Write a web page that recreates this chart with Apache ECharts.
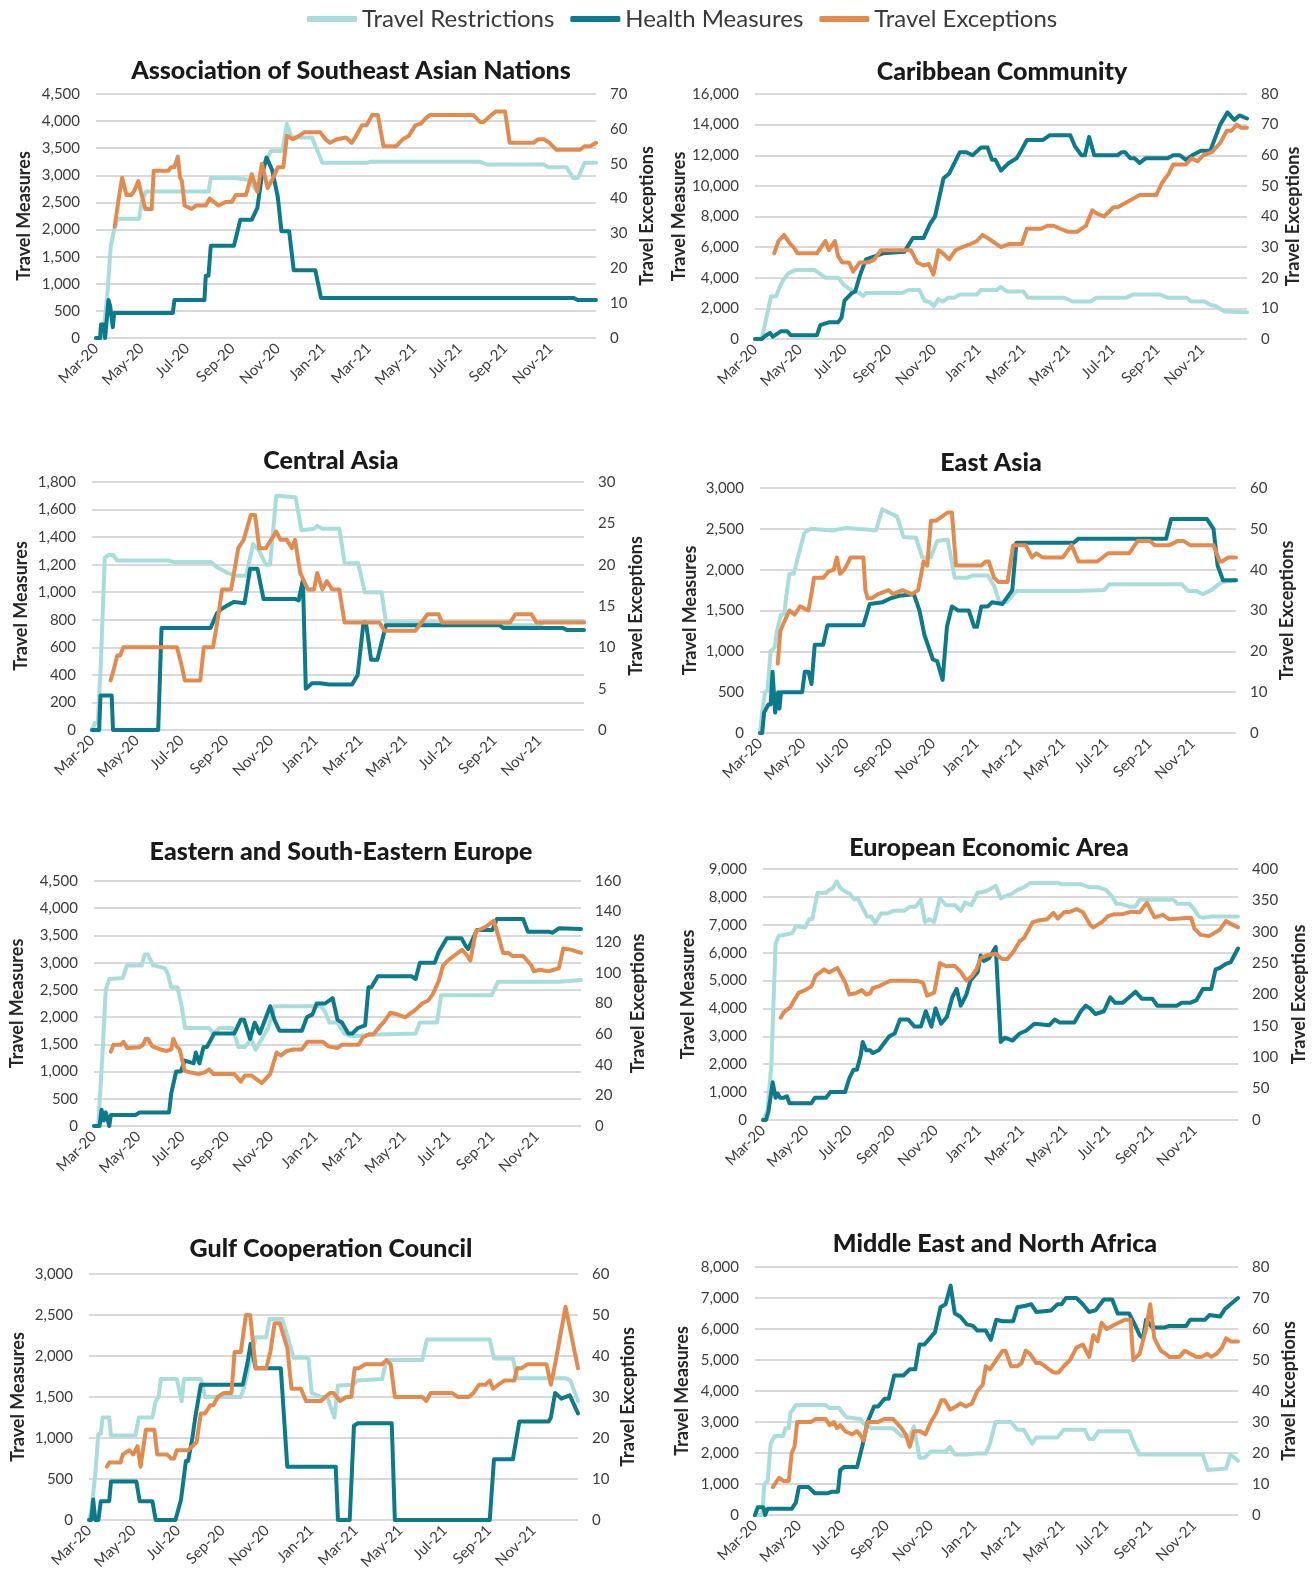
<!DOCTYPE html>
<html><head><meta charset="utf-8">
<script src="https://cdn.jsdelivr.net/npm/echarts/dist/echarts.min.js"></script>
<style>html,body{margin:0;padding:0;background:#fff}#c{width:1313px;height:1583px}</style>
</head><body><div id="c"></div>
<script>
// x values are months since 1 Mar 2020
const tickLabels = ['Mar-20','May-20','Jul-20','Sep-20','Nov-20','Jan-21','Mar-21','May-21','Jul-21','Sep-21','Nov-21'];
const seriesNames = ['Travel Restrictions','Health Measures','Travel Exceptions'];
const panelTitles = ['Association of Southeast Asian Nations','Caribbean Community','Central Asia','East Asia','Eastern and South-Eastern Europe','European Economic Area','Gulf Cooperation Council','Middle East and North Africa'];
const leftMax = [4500,16000,1800,3000,4500,9000,3000,8000];
const leftInterval = [500,2000,200,500,500,1000,500,1000];
const rightMax = [70,80,30,60,160,400,60,80];
const rightInterval = [10,10,5,10,20,50,10,10];

const aseanTR = [[0,0],[0.3,0],[0.5,800],[0.65,1700],[0.8,2000],[0.95,2200],[1.9,2200],[2.0,2500],[2.2,2700],[4.95,2700],[5.05,2950],[6.05,2950],[6.7,2920],[7.1,2700],[7.4,3200],[7.7,3450],[8.2,3450],[8.4,3950],[8.6,3700],[9.5,3700],[9.96,3230],[11.9,3230],[12.1,3250],[16.9,3250],[17.2,3200],[19.7,3200],[19.9,3150],[20.7,3150],[21.0,2950],[21.2,2950],[21.5,3230],[22,3230]];
const aseanHM = [[0,0],[0.18,0],[0.22,250],[0.35,250],[0.4,0],[0.45,0],[0.55,700],[0.62,600],[0.74,200],[0.8,460],[3.38,460],[3.45,700],[4.77,700],[4.83,1150],[4.95,1150],[5.05,1700],[6.07,1700],[6.35,2180],[6.85,2180],[7.1,2400],[7.3,3000],[7.5,3330],[7.75,3100],[8.0,2600],[8.16,1970],[8.5,1970],[8.7,1250],[9.65,1250],[9.9,740],[21.0,740],[21.2,700],[22,700]];
const aseanTE = [[0.82,32],[1.0,40],[1.15,46],[1.34,41],[1.55,41],[1.67,42],[1.86,45],[2.05,40],[2.17,37],[2.45,37],[2.54,48],[3.19,48],[3.3,49],[3.45,49],[3.6,52],[3.7,46],[3.78,45],[3.9,38],[4.2,37],[4.4,38],[4.83,38],[5.0,40],[5.4,38],[5.7,39],[5.97,39],[6.15,41],[6.6,41],[6.85,47],[7.1,42],[7.3,50],[7.55,43],[7.8,46],[8.0,49],[8.24,49],[8.4,58],[8.66,57],[8.94,58],[9.16,59],[9.87,59],[10.1,57],[10.3,56],[10.6,57],[11.0,57.5],[11.25,56],[11.45,58],[11.7,61],[11.9,61],[12.15,64],[12.4,64],[12.65,55],[13.2,55],[13.5,57],[13.77,58],[14.05,61],[14.3,61.5],[14.5,63],[14.7,64],[16.6,64],[16.9,62],[17.05,62],[17.4,64],[17.6,65],[18.0,65],[18.2,56],[19.25,56],[19.45,57],[19.7,57],[19.95,56],[20.26,54],[21.3,54],[21.5,55],[21.75,55],[22,56]];

const caricomTR = [[0,0],[0.3,0],[0.72,2800],[0.95,2800],[1.05,3200],[1.24,3800],[1.5,4300],[1.8,4500],[2.67,4500],[2.96,4200],[3.15,4000],[3.72,4000],[4.0,3500],[4.3,3200],[4.68,3000],[4.83,2800],[4.96,3000],[6.58,3000],[6.87,3200],[7.35,3200],[7.58,2500],[7.82,2400],[8.0,2150],[8.2,2600],[8.4,2450],[8.65,2700],[8.9,2700],[9.16,2900],[9.92,2900],[10.1,3200],[10.8,3200],[11.0,3400],[11.25,3100],[12.0,3100],[12.2,2700],[13.8,2700],[14.2,2450],[15.0,2450],[15.27,2700],[16.6,2700],[16.9,2900],[18.1,2900],[18.45,2700],[19.3,2700],[19.5,2450],[20.1,2450],[20.4,2200],[20.6,2150],[21.0,1800],[22,1750]];
const caricomHM = [[0,0],[0.3,0],[0.45,200],[0.67,400],[0.8,150],[1.15,500],[1.44,500],[1.6,250],[2.77,250],[2.92,900],[3.33,1100],[3.72,1100],[3.87,1400],[4.0,2500],[4.33,3000],[4.48,3100],[4.7,4200],[4.96,5200],[5.34,5400],[5.73,5600],[6.68,5700],[7.06,6600],[7.54,6600],[7.82,7500],[8.05,8000],[8.43,10500],[8.68,10800],[9.16,12200],[9.45,12200],[9.73,12000],[10.1,12500],[10.4,12500],[10.6,11700],[10.75,11700],[11.0,11000],[11.35,11500],[11.7,11800],[11.9,12300],[12.16,13000],[12.88,13000],[13.17,13300],[14.1,13300],[14.3,12600],[14.6,12000],[14.75,12000],[14.94,13200],[15.17,12000],[16.2,12000],[16.4,12200],[16.55,12200],[16.78,11800],[16.97,11800],[17.2,11500],[17.46,11800],[18.45,11800],[18.7,12000],[19.0,12000],[19.27,11700],[19.55,12000],[19.94,12300],[20.36,12300],[20.8,14000],[21.13,14800],[21.43,14300],[21.66,14600],[22,14400]];
const caricomTE = [[0.86,28],[1.05,32],[1.3,34],[1.58,31],[1.72,30],[1.9,28],[2.77,28],[2.96,30],[3.15,32],[3.3,29],[3.57,32],[3.72,27],[3.9,25],[4.2,25],[4.39,22],[4.68,25],[5.05,25],[5.34,26],[5.63,29],[6.97,29],[7.25,25],[7.54,24],[7.77,24.5],[7.98,21],[8.2,29],[8.4,28],[8.68,26],[8.97,29],[9.26,30],[9.64,31],[9.92,32],[10.17,34],[10.4,33],[10.6,32],[10.8,31],[11.0,30],[11.35,31],[11.93,31],[12.16,36],[12.79,36],[13.07,37],[13.36,37],[13.65,36],[14.0,35],[14.4,35],[14.8,37],[15.08,42],[15.27,41],[15.6,40],[16.03,43],[16.22,43],[16.7,45],[17.2,47],[17.94,47],[18.2,51],[18.5,54],[18.7,57],[19.27,57],[19.52,59],[19.79,58],[20.04,60],[20.43,61],[20.8,64],[21.1,68],[21.3,68],[21.54,70],[21.73,69],[22,69]];

const caTR = [[0,0],[0.13,50],[0.26,50],[0.4,500],[0.57,1250],[0.75,1270],[0.94,1270],[1.13,1230],[3.43,1230],[3.62,1220],[5.3,1220],[5.6,1180],[6.07,1140],[6.45,1120],[6.9,1120],[7.2,1350],[7.48,1300],[7.77,1200],[7.96,1200],[8.24,1700],[9.1,1690],[9.37,1450],[9.93,1460],[10.07,1480],[10.3,1460],[11.06,1460],[11.3,1210],[11.9,1210],[12.2,1000],[12.95,1000],[13.14,780],[18.5,770],[18.7,760],[20.0,760],[20.3,790],[22,790]];
const caHM = [[0,0],[0.32,0],[0.38,250],[0.88,250],[0.94,0],[2.96,0],[3.11,740],[5.3,740],[5.6,850],[5.8,880],[6.35,930],[6.82,920],[7.07,1170],[7.4,1170],[7.67,950],[9.1,950],[9.24,940],[9.43,1090],[9.56,300],[9.84,340],[10.2,340],[10.6,330],[11.63,330],[11.88,400],[12.14,780],[12.25,780],[12.48,510],[12.76,510],[13.14,760],[18.23,760],[18.4,740],[21.06,740],[21.25,725],[22,725]];
const caTE = [[0.83,6],[0.94,7],[1.13,9],[1.26,9],[1.4,10],[3.8,10],[3.99,8],[4.15,6],[4.84,6],[5.0,10],[5.41,10],[5.6,13],[5.82,17],[6.22,17],[6.54,22],[6.78,23],[7.1,26],[7.29,26],[7.48,22],[7.77,22],[8.24,24],[8.43,23],[8.71,23],[8.94,22],[9.08,23],[9.31,19],[9.65,17],[9.93,17],[10.07,19],[10.3,17],[10.5,18],[10.74,17],[11.06,17],[11.29,13],[12.85,13],[13.08,12],[14.46,12],[15.0,14],[15.5,14],[15.65,13],[18.7,13],[18.93,14],[19.65,14],[19.87,13],[22,13]];

const eaTR = [[0,0],[0.1,250],[0.23,500],[0.35,520],[0.49,1000],[0.68,1050],[0.78,1250],[0.97,1450],[1.13,1450],[1.2,1650],[1.36,1950],[1.56,1950],[1.8,2200],[2.05,2450],[2.34,2500],[3.31,2480],[4.0,2510],[5.07,2490],[5.36,2480],[5.65,2740],[5.95,2700],[6.34,2650],[6.63,2400],[7.21,2390],[7.5,2150],[7.89,2150],[8.19,2350],[8.67,2370],[9.0,1900],[9.55,1900],[9.84,1930],[10.53,1930],[10.82,1800],[11.07,1600],[11.4,1600],[11.7,1700],[11.9,1740],[14.6,1740],[15.9,1750],[16.14,1820],[19.5,1820],[19.79,1740],[20.18,1740],[20.47,1700],[20.86,1750],[21.35,1850],[22,1870]];
const eaHM = [[0,0],[0.1,0],[0.19,250],[0.39,350],[0.49,350],[0.58,750],[0.7,250],[0.84,500],[0.9,300],[0.97,500],[1.95,500],[2.07,750],[2.24,750],[2.38,600],[2.53,1080],[2.92,1080],[3.12,1320],[4.78,1320],[5.07,1580],[5.65,1600],[6.04,1650],[6.43,1680],[7.11,1700],[7.37,1500],[7.6,1200],[7.99,900],[8.19,880],[8.44,650],[8.64,1300],[8.87,1550],[9.16,1500],[9.65,1500],[9.9,1300],[10.03,1300],[10.23,1550],[10.53,1550],[10.72,1600],[11.21,1580],[11.66,1750],[11.85,2330],[14.5,2330],[14.72,2380],[18.77,2380],[19.0,2620],[20.66,2620],[20.96,2500],[21.15,2050],[21.4,1870],[22,1870]];
const eaTE = [[0.82,17],[0.94,25],[1.1,27],[1.36,30],[1.6,29],[1.85,31],[2.24,30],[2.5,38],[2.92,38],[3.16,39.5],[3.41,40],[3.55,43],[3.7,39],[3.9,40],[4.19,43],[4.78,43],[4.87,35],[4.97,33],[5.17,33],[5.46,34],[5.95,35],[6.14,34],[6.59,35],[7.02,34],[7.31,35],[7.56,42],[7.73,41],[7.9,52],[8.15,52],[8.67,54],[8.87,54],[9.06,41],[10.23,41],[10.43,42],[10.57,42],[10.82,38],[11.02,37],[11.44,37],[11.7,46],[12.28,46],[12.57,43],[12.77,44],[13.06,43],[14.0,43],[14.4,46],[14.72,42],[15.59,42],[16.08,44],[17.06,44],[17.45,47],[18.03,47],[18.23,46],[18.91,46],[19.3,47],[19.59,47],[19.88,46],[20.96,46],[21.25,42],[21.35,42],[21.64,43],[22,43]];

const eseTR = [[0,0],[0.19,0],[0.38,1300],[0.53,2500],[0.69,2700],[1.3,2720],[1.49,2950],[2.15,2950],[2.29,3150],[2.44,3150],[2.67,2950],[3.2,2900],[3.33,2800],[3.49,2550],[3.77,2550],[3.96,2200],[4.11,1800],[5.2,1800],[5.39,1700],[5.68,1800],[6.25,1800],[6.53,1450],[6.82,1450],[7.1,1600],[7.3,1400],[7.58,1600],[7.87,1800],[8.15,2200],[10.25,2200],[10.44,2100],[10.63,1900],[11.0,1900],[11.3,1700],[11.58,1650],[12.91,1680],[14.53,1700],[14.72,1900],[15.5,1900],[15.68,2400],[17.96,2400],[18.25,2650],[21.0,2650],[22,2680]];
const eseHM = [[0,0],[0.25,0],[0.34,300],[0.44,100],[0.53,250],[0.62,100],[0.69,0],[0.76,200],[1.87,200],[2.06,250],[3.39,250],[3.49,600],[3.71,1000],[3.92,1000],[4.1,1200],[4.5,1150],[4.6,1350],[4.76,1150],[4.95,1450],[5.1,1450],[5.43,1700],[6.34,1700],[6.63,1950],[6.78,1950],[7.05,1600],[7.26,1900],[7.49,1700],[7.68,1900],[7.96,2200],[8.15,1950],[8.38,1750],[9.39,1750],[9.62,2000],[9.87,2050],[10.06,2250],[10.44,2250],[10.78,2350],[11.0,1950],[11.2,1900],[11.49,1700],[11.68,1700],[11.92,1800],[12.25,1850],[12.4,2550],[12.53,2550],[12.82,2750],[14.34,2750],[14.53,2700],[14.72,3000],[15.39,3000],[15.58,3200],[15.94,3450],[16.6,3450],[16.8,3300],[16.9,3250],[17.3,3600],[18.0,3600],[18.2,3800],[19.39,3800],[19.6,3570],[20.53,3570],[20.72,3550],[21.0,3630],[22,3620]];
const eseTE = [[0.76,48.5],[0.88,53],[1.2,53],[1.33,55],[1.49,51],[2.06,51.5],[2.21,53],[2.34,57],[2.44,57],[2.63,52],[3.0,50],[3.29,49],[3.49,50],[3.58,57],[3.73,52],[3.87,50],[4.1,36],[4.34,35],[4.72,34],[5.0,35],[5.2,37],[5.39,34],[6.34,34],[6.63,29],[6.82,33],[7.1,33],[7.3,31],[7.58,28],[7.77,31],[7.96,34],[8.25,48],[8.44,46],[8.72,49],[9.0,50],[9.39,50],[9.64,55],[10.34,55],[10.59,52],[11.0,51],[11.2,53],[11.96,53],[12.15,58],[12.44,60],[12.63,60],[12.91,65],[13.1,68],[13.39,74],[13.68,73],[14.06,71],[14.34,74],[14.53,76],[14.82,80],[15.1,82],[15.3,86],[15.58,95],[15.77,105],[16.06,109],[16.44,113],[16.63,115],[16.82,112],[17.0,108],[17.25,127],[17.68,130],[17.78,131],[18.06,134],[18.25,125],[18.48,113],[18.72,113],[18.91,111],[19.39,111],[19.75,105],[19.87,101],[20.15,102],[20.53,101],[21.0,103],[21.2,116],[21.58,115],[22,113]];

const eeaTR = [[0,0],[0.2,300],[0.39,2000],[0.58,6300],[0.72,6600],[1.07,6650],[1.36,6700],[1.52,6950],[1.95,6900],[2.14,7200],[2.28,7200],[2.53,8150],[2.92,8150],[3.06,8250],[3.22,8300],[3.41,8550],[3.6,8300],[3.8,8200],[4.04,8100],[4.23,7900],[4.38,7950],[4.62,7600],[4.82,7300],[5.01,7300],[5.2,7050],[5.46,7400],[5.75,7400],[6.04,7500],[6.53,7500],[6.82,7650],[7.07,7650],[7.31,7900],[7.5,7100],[7.7,7200],[7.93,7100],[8.19,7950],[8.48,7700],[8.91,7700],[9.16,7500],[9.36,7800],[9.65,7700],[9.94,8150],[10.33,8200],[10.78,8400],[11.01,7950],[11.3,8050],[11.5,8100],[11.79,8250],[12.09,8350],[12.38,8500],[13.65,8500],[13.84,8450],[14.72,8450],[15.1,8350],[15.5,8350],[15.89,8250],[16.18,8000],[16.37,7750],[16.57,7750],[16.96,7650],[17.25,7650],[17.45,7900],[19.0,7900],[19.2,7750],[19.75,7750],[19.98,7550],[20.18,7300],[20.37,7250],[20.76,7300],[22,7300]];
const eeaHM = [[0,0],[0.14,0],[0.25,300],[0.45,1350],[0.58,800],[0.68,950],[0.78,800],[0.97,800],[1.11,850],[1.23,600],[2.24,600],[2.4,800],[2.92,800],[3.12,1000],[3.8,1000],[4.0,1500],[4.19,1800],[4.35,1800],[4.52,2300],[4.62,2800],[4.78,2500],[4.97,2500],[5.07,2400],[5.36,2500],[5.85,3000],[6.1,3100],[6.34,3600],[6.73,3600],[7.02,3350],[7.31,3350],[7.54,3900],[7.8,3350],[7.99,4000],[8.25,3450],[8.52,3700],[8.77,4400],[8.97,4700],[9.16,4100],[9.42,4500],[9.61,5000],[9.94,5300],[10.08,5900],[10.23,5700],[10.47,5800],[10.78,6200],[11.01,2800],[11.2,2950],[11.56,2850],[11.89,3100],[12.18,3200],[12.57,3450],[13.26,3400],[13.51,3600],[13.74,3500],[14.42,3500],[14.72,3900],[14.95,4100],[15.15,4000],[15.4,3800],[15.79,3900],[16.08,4400],[16.31,4200],[16.66,4200],[16.96,4400],[17.25,4600],[17.54,4350],[18.03,4350],[18.26,4100],[19.16,4100],[19.39,4200],[19.78,4200],[20.08,4300],[20.37,4700],[20.76,4700],[20.96,5400],[21.15,5450],[21.44,5600],[21.65,5650],[22,6150]];
const eeaTE = [[0.82,163],[0.97,172],[1.27,180],[1.46,192],[1.66,203],[1.95,207],[2.24,213],[2.44,230],[2.83,240],[3.06,235],[3.31,240],[3.45,242],[3.6,232],[3.8,220],[4.0,200],[4.29,202],[4.58,207],[4.78,200],[4.97,202],[5.07,210],[5.36,213],[5.65,218],[5.9,222],[6.73,222],[7.21,221],[7.41,219],[7.6,198],[7.93,203],[8.19,250],[8.48,245],[8.87,246],[9.16,236],[9.42,222],[9.69,230],[9.88,240],[10.08,258],[10.43,263],[10.78,265],[11.05,257],[11.3,256],[11.6,268],[11.89,285],[12.09,290],[12.48,315],[12.77,318],[13.16,320],[13.45,330],[13.65,321],[13.94,331],[14.23,332],[14.53,336],[14.82,331],[15.15,311],[15.3,307],[15.69,315],[15.98,325],[16.27,328],[16.66,328],[17.06,332],[17.45,331],[17.78,346],[18.13,323],[18.52,327],[18.81,320],[19.59,322],[19.83,322],[19.98,305],[20.27,295],[20.66,293],[21.15,303],[21.44,317],[21.65,313],[22,307]];

const gccTR = [[0,0],[0.1,100],[0.28,550],[0.42,1050],[0.53,1050],[0.61,1250],[0.91,1250],[0.99,1030],[2.09,1030],[2.24,1250],[2.85,1250],[3.0,1450],[3.13,1500],[3.23,1720],[3.95,1720],[4.17,1450],[4.27,1720],[5.03,1720],[5.22,1500],[6.83,1500],[6.98,1620],[7.21,1900],[7.5,2230],[7.97,2230],[8.12,2450],[8.69,2450],[8.92,2250],[9.2,1980],[9.87,1980],[10.02,1550],[10.44,1500],[10.72,1500],[11.04,1250],[11.2,1640],[11.86,1650],[12.05,1700],[13.19,1720],[13.38,1950],[14.99,1950],[15.2,2200],[18.03,2200],[18.22,1970],[19.07,1970],[19.26,1730],[21.43,1730],[21.66,1700],[22,1450]];
const gccHM = [[0,0],[0.1,0],[0.19,250],[0.28,0],[0.42,0],[0.53,230],[0.91,230],[0.99,470],[2.13,470],[2.28,230],[2.85,230],[3.0,0],[3.89,0],[4.14,250],[4.36,720],[4.46,720],[4.65,1000],[4.78,1250],[5.03,1650],[6.92,1650],[7.12,1900],[7.27,2150],[7.5,1850],[8.63,1850],[8.92,650],[11.1,650],[11.2,0],[11.73,0],[11.92,1150],[12.1,1180],[13.62,1180],[13.76,0],[18.03,0],[18.22,740],[19.07,740],[19.36,1200],[20.68,1200],[20.78,1250],[20.97,1550],[21.25,1480],[21.63,1520],[22,1300]];
const gccTE = [[0.8,13],[0.91,14],[1.42,14],[1.52,16],[1.8,17],[1.99,16],[2.18,18],[2.32,13],[2.56,22],[2.94,22],[3.07,16],[3.5,16],[3.7,15],[3.83,15],[3.95,17],[4.46,17],[4.65,18],[4.84,19],[5.03,26],[5.22,26],[5.46,28],[5.6,28],[5.79,30],[6.07,31],[6.41,31],[6.55,41],[6.83,41],[7.06,50],[7.25,50],[7.5,37],[7.97,37],[8.16,41],[8.35,48],[8.58,48],[8.92,42],[9.11,32],[9.53,32],[9.77,29],[10.44,29],[10.63,30],[10.85,31],[11.0,31],[11.29,29],[11.57,30],[11.8,30],[11.95,37],[12.14,37],[12.43,38],[13.19,38],[13.38,39],[13.57,38],[13.76,30],[14.99,30],[15.18,29],[15.37,31],[16.32,31],[16.6,30],[17.08,30],[17.3,31],[17.55,33],[17.84,33],[18.03,34],[18.18,32],[18.41,33],[18.69,34],[19.13,34],[19.26,37],[19.45,37],[19.73,38],[20.58,38],[20.78,33],[20.97,38],[21.44,52],[22,37]];

const menaTR = [[0,0],[0.33,0],[0.42,1000],[0.58,1100],[0.71,2300],[0.9,2550],[1.29,2550],[1.38,2800],[1.54,2800],[1.61,3300],[1.73,3400],[1.86,3550],[3.21,3550],[3.4,3450],[3.84,3450],[3.98,3300],[4.17,3150],[4.8,3100],[4.94,2950],[5.32,2800],[6.28,2800],[6.67,2550],[7.05,2550],[7.24,2850],[7.49,1850],[7.72,1850],[8.01,2050],[8.68,2050],[8.88,2200],[9.1,1950],[9.64,1950],[10.03,1980],[10.51,1980],[10.7,2300],[10.95,3000],[11.66,3000],[11.95,2750],[12.24,2750],[12.62,2300],[12.81,2500],[13.78,2500],[14.06,2750],[15.02,2750],[15.22,2450],[15.41,2450],[15.64,2700],[17.04,2700],[17.33,2200],[17.52,1950],[20.4,1950],[20.63,1450],[21.46,1500],[21.65,1950],[22,1750]];
const menaHM = [[0,0],[0.13,250],[0.38,250],[0.46,0],[0.58,200],[1.67,200],[1.86,400],[2.0,900],[2.44,900],[2.73,700],[3.3,700],[3.5,750],[3.78,750],[3.88,1450],[4.07,1550],[4.65,1550],[4.88,2200],[5.13,3000],[5.42,3500],[5.61,3500],[5.9,3750],[6.09,3750],[6.34,4500],[6.76,4500],[7.05,4700],[7.3,4700],[7.49,5500],[7.72,5500],[8.2,5900],[8.45,6700],[8.68,6800],[8.91,7400],[9.1,6500],[9.35,6400],[9.64,6150],[9.93,6100],[10.13,5950],[10.51,5950],[10.74,5650],[10.99,6300],[11.28,6250],[11.76,6250],[11.95,6700],[12.33,6750],[12.58,6800],[12.81,6550],[13.49,6600],[13.78,6800],[13.97,6800],[14.16,7000],[14.64,7000],[14.93,6800],[15.22,6550],[15.51,6600],[15.89,6950],[16.27,6950],[16.52,6500],[17.04,6500],[17.33,6100],[17.52,5800],[17.68,5700],[17.81,6300],[18.1,6050],[18.67,6050],[18.87,6100],[19.64,6100],[19.83,6300],[20.5,6300],[20.7,6450],[21.18,6400],[21.41,6650],[21.66,6800],[22,7000]];
const menaTE = [[0.81,9],[1.0,11],[1.1,12],[1.29,11],[1.54,11],[1.67,20],[1.8,22],[1.92,30],[2.54,30],[2.77,31],[3.21,31],[3.4,29],[3.59,30],[3.73,28],[3.88,29],[4.11,27],[4.42,26],[4.65,27],[4.78,26],[4.94,24],[5.13,30],[5.61,30],[5.9,31],[6.28,31],[6.67,28],[6.86,26],[7.05,22],[7.24,27],[7.53,27],[7.76,26],[8.01,30],[8.26,33],[8.49,37],[8.64,37],[8.88,34],[9.16,35],[9.36,36],[9.61,35],[9.88,36],[10.13,40],[10.37,42],[10.51,48],[10.7,47],[10.99,50],[11.28,53],[11.41,53],[11.66,48],[11.95,48],[12.14,49],[12.33,53],[12.53,52],[12.81,49],[13.0,49],[13.2,48],[13.58,46],[13.83,46],[14.06,48],[14.35,50],[14.64,54],[14.93,55],[15.22,51],[15.41,58],[15.6,56],[15.79,62],[16.02,60],[16.27,61],[16.56,62],[16.85,63],[17.1,63],[17.23,50],[17.52,52],[17.81,60],[18.0,68],[18.19,57],[18.48,53],[18.71,52],[18.87,51],[19.33,51],[19.58,53],[19.83,52],[20.11,51],[20.36,51],[20.6,52],[20.79,51],[21.02,52],[21.27,54],[21.46,57],[21.66,56],[22,56]];

const panelData = [
  [aseanTR, aseanHM, aseanTE],
  [caricomTR, caricomHM, caricomTE],
  [caTR, caHM, caTE],
  [eaTR, eaHM, eaTE],
  [eseTR, eseHM, eseTE],
  [eeaTR, eeaHM, eeaTE],
  [gccTR, gccHM, gccTE],
  [menaTR, menaHM, menaTE]
];

// ---- layout & style (not data) ----
const layout = [
  {l:96,  r:596,  t:94,   b:338,  tx:351,  ty:70,   ng:[63,42]},
  {l:755, r:1247, t:94,   b:339,  tx:1002, ty:71,   ng:[64,37]},
  {l:92,  r:584,  t:482,  b:730,  tx:331,  ty:460,  ng:[62,43]},
  {l:760, r:1236, t:488,  b:733,  tx:991,  ty:462,  ng:[61,42]},
  {l:94,  r:581,  t:881,  b:1126, tx:341,  ty:851,  ng:[68,48]},
  {l:763, r:1238, t:869,  b:1120, tx:989,  ty:847,  ng:[66,52]},
  {l:89,  r:578,  t:1274, b:1520, tx:331,  ty:1248, ng:[62,41]},
  {l:755, r:1238, t:1267, b:1515, tx:995,  ty:1243, ng:[64,42]}
];
const colors = ['#a9dddb', '#0b7a8a', '#e38b4f'];
const FONT = 'Lato, "Open Sans", sans-serif';
const labelColor = '#3d3d3d';

const option = {
  backgroundColor: '#fff',
  animation: false,
  textStyle: {fontFamily: FONT},
  legend: {
    data: seriesNames, top: 2, left: 302, itemWidth: 50, itemHeight: 6, itemGap: 16,
    icon: 'roundRect',
    textStyle: {fontSize: 24, color: '#3a3a3a', fontFamily: FONT}
  },
  title: [], grid: [], xAxis: [], yAxis: [], series: []
};

layout.forEach((p, i) => {
  option.title.push({
    text: panelTitles[i], left: p.tx, top: p.ty - 12, textAlign: 'center', padding: 0,
    textStyle: {fontSize: 25, fontWeight: 900, color: '#1a1a1a', fontFamily: FONT}
  });
  option.grid.push({left: p.l, top: p.t, width: p.r - p.l, height: p.b - p.t, containLabel: false});
  option.xAxis.push({
    gridIndex: i, type: 'value', min: 0, max: 22, interval: 2,
    axisLine: {show: false}, axisTick: {show: false}, splitLine: {show: false},
    axisLabel: {
      rotate: 45, margin: 8, fontSize: 15, color: labelColor, fontFamily: FONT,
      showMinLabel: true, showMaxLabel: false,
      formatter: v => tickLabels[Math.round(v / 2)] || ''
    }
  });
  option.yAxis.push({
    gridIndex: i, type: 'value', position: 'left', min: 0, max: leftMax[i], interval: leftInterval[i],
    name: 'Travel Measures', nameLocation: 'middle', nameRotate: 90, nameGap: p.ng[0],
    nameTextStyle: {fontSize: 18, fontWeight: 'bold', color: '#262626', fontFamily: FONT},
    axisLine: {show: false}, axisTick: {show: false},
    axisLabel: {fontSize: 15, color: labelColor, margin: 16, fontFamily: FONT,
      formatter: v => v.toLocaleString('en-US')},
    splitLine: {show: true, lineStyle: {color: '#d9d9d9', width: 2}}
  });
  option.yAxis.push({
    gridIndex: i, type: 'value', position: 'right', min: 0, max: rightMax[i], interval: rightInterval[i],
    name: 'Travel Exceptions', nameLocation: 'middle', nameRotate: 90, nameGap: p.ng[1],
    nameTextStyle: {fontSize: 18, fontWeight: 'bold', color: '#262626', fontFamily: FONT},
    axisLine: {show: false}, axisTick: {show: false},
    axisLabel: {fontSize: 15, color: labelColor, margin: 14, fontFamily: FONT},
    splitLine: {show: false}
  });
  panelData[i].forEach((d, k) => {
    option.series.push({
      type: 'line', name: seriesNames[k], xAxisIndex: i, yAxisIndex: k === 2 ? 2 * i + 1 : 2 * i,
      data: d, showSymbol: false, symbol: 'none', z: 2 + k,
      lineStyle: {width: 4, color: colors[k], cap: 'round', join: 'round'},
      itemStyle: {color: colors[k]}
    });
  });
});

const chart = echarts.init(document.getElementById('c'), null, {renderer: 'canvas'});
chart.setOption(option);
</script></body></html>
